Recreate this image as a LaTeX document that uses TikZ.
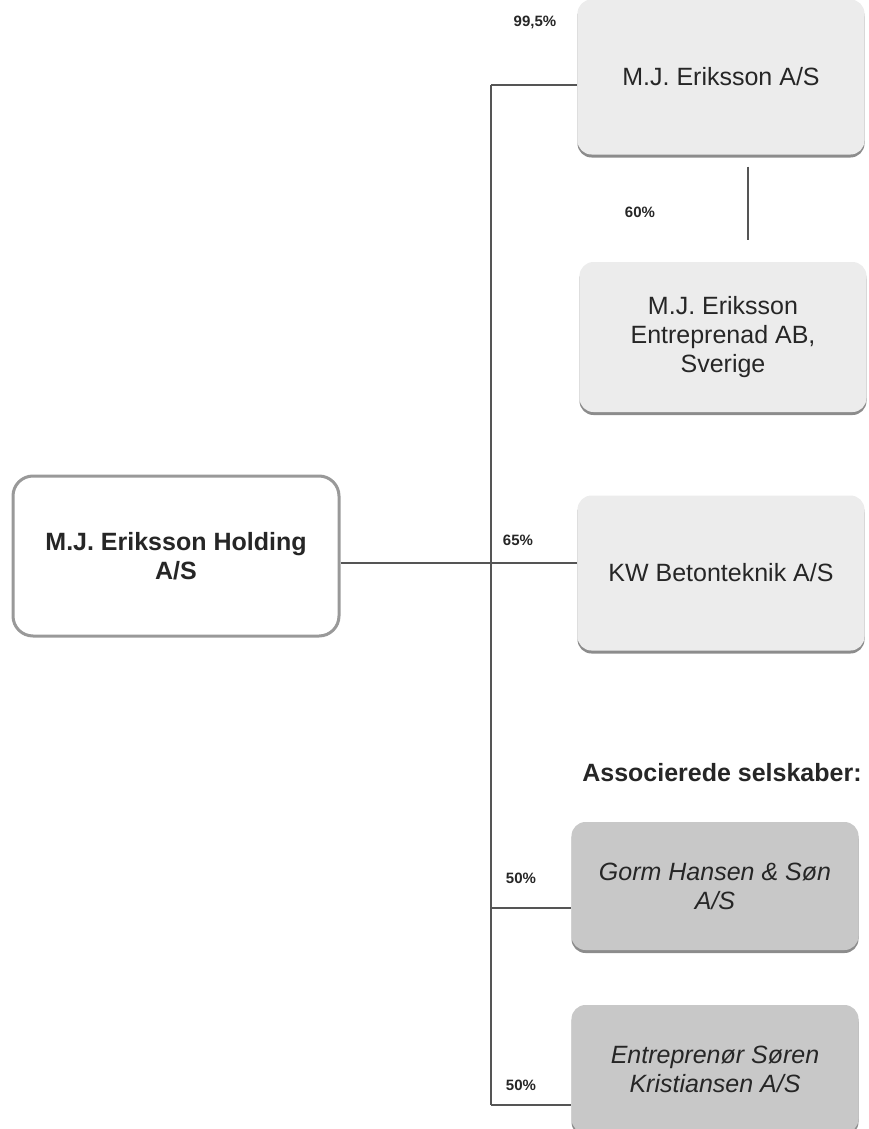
\documentclass[tikz,border=0pt]{standalone}
\usepackage{fontspec}
\setmainfont{Liberation Sans}
\usetikzlibrary{shadows}
\definecolor{lightbox}{HTML}{ECECEC}
\definecolor{darkbox}{HTML}{C8C8C8}
\definecolor{linegray}{HTML}{555555}
\begin{document}
\begin{tikzpicture}[x=1pt,y=-1pt]
\def\bw{287pt}
\def\bh{155pt}
\tikzset{
base/.style={text=black!85,align=center,font=\fontsize{25}{29}\selectfont},
holding/.style={base,draw=black!40,line width=3pt,rounded corners=20pt,fill=white,minimum width=326pt,minimum height=160pt,font=\bfseries\fontsize{25}{29}\selectfont},
company/.style={base,rounded corners=14pt,fill=lightbox,minimum width=\bw,minimum height=\bh,
  drop shadow={shadow xshift=0pt,shadow yshift=-3pt,fill=black!45,opacity=1}},
assoc/.style={company,fill=darkbox,minimum height=128pt,font=\itshape\fontsize{25}{29}\selectfont},
pct/.style={font=\bfseries\fontsize{15}{17}\selectfont,text=black!85},
conn/.style={draw=linegray,line width=1.4pt}}
\useasboundingbox (0,0) rectangle (869,1129);
\node[holding] at (176,556) (hold) {M.J. Eriksson Holding\\A/S};
\node[company] at (721,77) (mje) {M.J. Eriksson A/S};
\node[company,minimum height=150pt] at (723,337) (sve) {M.J. Eriksson\\Entreprenad AB,\\Sverige};
\node[company] at (721,573) (kw) {KW Betonteknik A/S};
\node[base,font=\bfseries\fontsize{25}{29}\selectfont] at (722,773) (assoctitle) {Associerede selskaber:};
\node[assoc] at (715,886) (gorm) {Gorm Hansen \& Søn\\A/S};
\node[assoc] at (715,1069) (entr) {Entreprenør Søren\\Kristiansen A/S};
\coordinate (b1) at (491,85);
\coordinate (b2) at (491,908);
\coordinate (b3) at (491,1105);
\draw[conn] (b1) -- (b3);
\draw[conn] (b1) -- (b1 -| mje.west);
\draw[conn] ([yshift=-7pt]hold.east) -- ([yshift=-7pt]hold.east -| kw.west);
\draw[conn] (b2) -- (b2 -| gorm.west);
\draw[conn] (b3) -- (b3 -| entr.west);
\draw[conn] ([xshift=27pt,yshift=-12pt]mje.south) -- ([xshift=25pt,yshift=22pt]sve.north);
\node[pct] at (535,22) (p1) {99,5\%};
\node[pct] at (640,212) (p2) {60\%};
\node[pct] at (518,540) (p3) {65\%};
\node[pct] at (521,878) (p4) {50\%};
\node[pct] at (521,1085) (p5) {50\%};
\end{tikzpicture}
\end{document}
